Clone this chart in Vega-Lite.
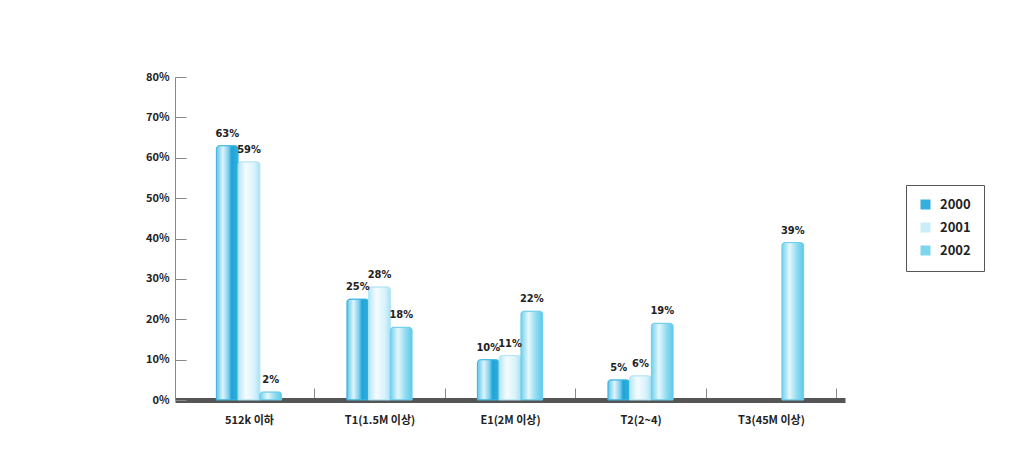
{
  "$schema": "https://vega.github.io/schema/vega-lite/v6.json",
  "autosize": "none",
  "width": 670,
  "height": 323,
  "padding": {"left": 175, "top": 77, "right": 172, "bottom": 59},
  "background": "#ffffff",
  "config": {
    "view": {"stroke": null},
    "font": "Noto Sans CJK KR"
  },
  "data": {
    "values": [
      {"cat": "512k 이하", "year": "2000", "v": 63},
      {"cat": "512k 이하", "year": "2001", "v": 59},
      {"cat": "512k 이하", "year": "2002", "v": 2},
      {"cat": "T1(1.5M 이상)", "year": "2000", "v": 25},
      {"cat": "T1(1.5M 이상)", "year": "2001", "v": 28},
      {"cat": "T1(1.5M 이상)", "year": "2002", "v": 18},
      {"cat": "E1(2M 이상)", "year": "2000", "v": 10},
      {"cat": "E1(2M 이상)", "year": "2001", "v": 11},
      {"cat": "E1(2M 이상)", "year": "2002", "v": 22},
      {"cat": "T2(2~4)", "year": "2000", "v": 5},
      {"cat": "T2(2~4)", "year": "2001", "v": 6},
      {"cat": "T2(2~4)", "year": "2002", "v": 19},
      {"cat": "T3(45M 이상)", "year": "2002", "v": 39}
    ]
  },
  "encoding": {
    "x": {
      "field": "cat", "type": "nominal", "sort": null,
      "scale": {"domain": ["512k 이하", "T1(1.5M 이상)", "E1(2M 이상)", "T2(2~4)", "T3(45M 이상)"], "paddingInner": 0.5, "paddingOuter": 0.317},
      "axis": {
        "title": null, "labelAngle": 0, "labelFontSize": 11, "labelColor": "#222", "labelFontWeight": "bold",
        "labelPadding": 26, "domainColor": "#555", "domainWidth": 5,
        "tickSize": -12, "tickWidth": 1, "tickColor": "#888",
        "tickOffset": 65.25, "labelOffset": -65.25
      }
    },
    "xOffset": {"field": "year", "type": "nominal", "scale": {"domain": ["2000", "2001", "2002"], "paddingInner": 0, "paddingOuter": 0}},
    "y": {
      "field": "v", "type": "quantitative",
      "scale": {"domain": [0, 80], "nice": false},
      "axis": {
        "title": null, "values": [0, 10, 20, 30, 40, 50, 60, 70, 80],
        "labelExpr": "datum.value + '%'", "labelFontSize": 11, "labelFontWeight": "bold", "labelColor": "#222",
        "domainColor": "#888", "tickColor": "#888", "tickSize": -11, "labelPadding": 17, "grid": false
      }
    }
  },
  "layer": [
    {
      "mark": {"type": "bar", "cornerRadiusTopLeft": 3, "cornerRadiusTopRight": 3},
      "encoding": {
        "color": {
          "field": "year", "type": "nominal",
          "scale": {"domain": ["2000", "2001", "2002"], "range": ["#35afdd", "#c9eef9", "#7dd5ee"]},
          "legend": {
            "title": null, "orient": "none", "legendX": 731, "legendY": 108,
            "strokeColor": "#555", "padding": 13, "symbolType": "square", "symbolSize": 100,
            "labelFontSize": 13, "labelFontWeight": "bold", "labelColor": "#222", "rowPadding": 9,
            "labelOffset": 8, "symbolStrokeWidth": 0
          }
        }
      }
    },
    {
      "transform": [{"filter": "datum.year == '2000'"}],
      "mark": {"type": "bar", "cornerRadiusTopLeft": 3, "cornerRadiusTopRight": 3, "stroke": "#3db4e0", "strokeWidth": 1,
        "fill": {"gradient": "linear", "x1": 0, "y1": 0, "x2": 1, "y2": 0,
          "stops": [{"offset": 0, "color": "#5cc4e8"}, {"offset": 0.3, "color": "#dff4fb"}, {"offset": 0.55, "color": "#7fd0ee"}, {"offset": 0.7, "color": "#1fa3d8"}, {"offset": 1, "color": "#31b0de"}]}}
    },
    {
      "transform": [{"filter": "datum.year == '2001'"}],
      "mark": {"type": "bar", "cornerRadiusTopLeft": 3, "cornerRadiusTopRight": 3, "stroke": "#b0e4f5", "strokeWidth": 1,
        "fill": {"gradient": "linear", "x1": 0, "y1": 0, "x2": 1, "y2": 0,
          "stops": [{"offset": 0, "color": "#b5e6f6"}, {"offset": 0.35, "color": "#f5fcfe"}, {"offset": 0.75, "color": "#d8f2fb"}, {"offset": 1, "color": "#a8e1f4"}]}}
    },
    {
      "transform": [{"filter": "datum.year == '2002'"}],
      "mark": {"type": "bar", "cornerRadiusTopLeft": 3, "cornerRadiusTopRight": 3, "stroke": "#6ccdeb", "strokeWidth": 1,
        "fill": {"gradient": "linear", "x1": 0, "y1": 0, "x2": 1, "y2": 0,
          "stops": [{"offset": 0, "color": "#6fd0ee"}, {"offset": 0.35, "color": "#e6f7fc"}, {"offset": 0.7, "color": "#8fdbf1"}, {"offset": 1, "color": "#5cc9ea"}]}}
    },
    {
      "mark": {"type": "text", "baseline": "bottom", "dy": -7, "fontSize": 11, "fontWeight": "bold", "color": "#222",
        "font": "Liberation Sans Narrow, DejaVu Sans Condensed, Noto Sans CJK KR",
        "text": {"expr": "datum.v + '%'"}},
      "encoding": {}
    }
  ]
}
